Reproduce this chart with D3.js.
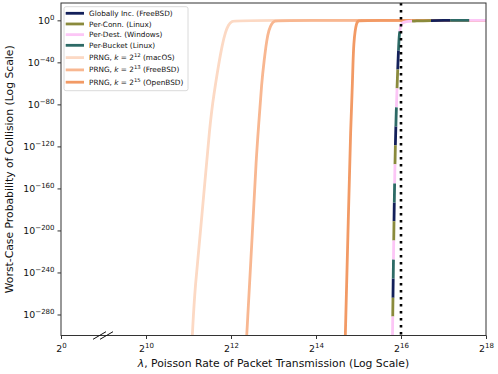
<!DOCTYPE html>
<html>
<head>
<meta charset="utf-8">
<script src="https://cdn.jsdelivr.net/npm/d3@7"></script>
<style>
  body { margin: 0; background: #fff; }
  svg { display: block; font-family: "DejaVu Sans", sans-serif; }
</style>
</head>
<body>
<svg id="chart"></svg>
<script>
'use strict';

// x: log2 of the Poisson rate, y: log10 of the collision probability
const counterLog2Rate = [15.80, 15.84, 15.88, 15.94, 15.96, 16.00, 16.06, 18.00];
const counterLog10P   = [-300, -171, -92, -28, -12, -3.5, 0, 0];

const macosLog2Rate = [11.09, 11.15, 11.31, 11.51, 11.60, 11.70, 11.80, 11.87, 11.94, 12.02, 12.15, 18.00];
const macosLog10P   = [-300, -254, -190, -95, -70, -44, -22, -11, -4, -0.8, 0, 0];

const freebsdLog2Rate = [12.37, 12.52, 12.59, 12.66, 12.72, 12.78, 12.84, 12.89, 12.96, 13.02, 13.12, 18.00];
const freebsdLog10P   = [-300, -190, -133, -95, -60, -38, -19, -9, -3, -0.5, 0, 0];

const openbsdLog2Rate = [14.69, 14.76, 14.82, 14.85, 14.87, 14.89, 14.92, 14.95, 14.98, 15.04, 18.00];
const openbsdLog10P   = [-300, -190, -95, -70, -40, -21, -10, -3.5, -0.6, 0, 0];

const counterNames  = ['Globally Inc. (FreeBSD)', 'Per-Conn. (Linux)', 'Per-Dest. (Windows)', 'Per-Bucket (Linux)'];
const counterColors = ['#13205a', '#8a8a3c', '#fcc6f6', '#2d6a66'];
const prngK      = [12, 13, 15];
const prngOS     = ['macOS', 'FreeBSD', 'OpenBSD'];
const prngColors = ['#fcd9c4', '#f8b791', '#f29a65'];

const xTickExps = [0, 10, 12, 14, 16, 18];
const yTickExps = [0, -40, -80, -120, -160, -200, -240, -280];
const thresholdExp = 16;

const chart = {
    width: 498,
    height: 374,
    left: 61,
    right: 486,
    top: 3,
    bottom: 335.5,
    dash: 19,

    init: function() {
        this.svg = d3.select('#chart')
            .attr('width', this.width)
            .attr('height', this.height);

        // broken axis: 2^0 sits where 2^8 would be
        this.x = d3.scaleLog().base(2)
            .domain([1, 2 ** 10, 2 ** 18])
            .range([this.left, 146, this.right]);
        this.y = d3.scaleLog()
            .domain([1e-300, 10 ** 16.5])
            .range([this.bottom, this.top]);
    },

    toPoints: function(xs, ys) {
        return xs.map((e, i) => [2 ** e, 10 ** ys[i]]);
    },

    draw: function() {
        const _this = this;
        const svg = this.svg;
        const line = d3.line()
            .x(d => _this.x(d[0]))
            .y(d => _this.y(d[1]))
            .curve(d3.curveBasis);

        svg.append('clipPath').attr('id', 'plot-clip')
            .append('rect')
            .attr('x', this.left).attr('y', this.top)
            .attr('width', this.right - this.left)
            .attr('height', this.bottom - this.top);

        const plot = svg.append('g').attr('clip-path', 'url(#plot-clip)');

        // PRNG curves
        const prng = [
            this.toPoints(macosLog2Rate, macosLog10P),
            this.toPoints(freebsdLog2Rate, freebsdLog10P),
            this.toPoints(openbsdLog2Rate, openbsdLog10P)
        ];
        prng.forEach((pts, i) => {
            plot.append('path')
                .attr('d', line(pts))
                .attr('fill', 'none')
                .attr('stroke', prngColors[i])
                .attr('stroke-width', 2.8);
        });

        // the four counter schemes coincide; interleaved dashes show all of them
        const counterPts = this.toPoints(counterLog2Rate, counterLog10P);
        const phase = [2, 1, 0, 3];  // pink, olive, navy, teal along the path
        counterColors.forEach((c, i) => {
            plot.append('path')
                .attr('d', line(counterPts))
                .attr('fill', 'none')
                .attr('stroke', c)
                .attr('stroke-width', 2.8)
                .attr('stroke-dasharray', this.dash + ' ' + this.dash * 3)
                .attr('stroke-dashoffset', -phase[i] * this.dash);
        });

        // vertical dotted line at 2^16
        plot.append('line')
            .attr('x1', this.x(2 ** thresholdExp)).attr('x2', this.x(2 ** thresholdExp))
            .attr('y1', this.top).attr('y2', this.bottom)
            .attr('stroke', '#000')
            .attr('stroke-width', 2.6)
            .attr('stroke-dasharray', '2.6 4.4');

        // frame
        svg.append('rect')
            .attr('x', this.left).attr('y', this.top)
            .attr('width', this.right - this.left)
            .attr('height', this.bottom - this.top)
            .attr('fill', 'none')
            .attr('stroke', '#333')
            .attr('stroke-width', 1);

        this.drawAxes();
        this.drawLegend();
    },

    supLabel: function(sel, base, exp, sup) {
        sel.text(null);
        sel.append('tspan').text(base);
        sel.append('tspan')
            .attr('dy', -4.2)
            .attr('font-size', sup)
            .text(exp);
    },

    drawAxes: function() {
        const _this = this;
        const xAxis = d3.axisBottom(this.x)
            .tickValues(xTickExps.map(e => 2 ** e))
            .tickSize(3.5)
            .tickPadding(2);
        const gx = this.svg.append('g')
            .attr('transform', 'translate(0,' + this.bottom + ')')
            .call(xAxis);
        gx.select('.domain').remove();
        gx.selectAll('.tick line').attr('stroke', '#333');
        gx.selectAll('.tick text')
            .attr('font-size', 9.4)
            .attr('font-family', 'DejaVu Sans')
            .attr('fill', '#111')
            .attr('dy', '1.15em')
            .each(function(d) {
                _this.supLabel(d3.select(this), '2', String(Math.round(Math.log2(d))), 7);
            });

        const yAxis = d3.axisLeft(this.y)
            .tickValues(yTickExps.map(e => 10 ** e))
            .tickSize(3.5)
            .tickPadding(3);
        const gy = this.svg.append('g')
            .attr('transform', 'translate(' + this.left + ',0)')
            .call(yAxis);
        gy.select('.domain').remove();
        gy.selectAll('.tick line').attr('stroke', '#333');
        gy.selectAll('.tick text')
            .attr('font-size', 9.4)
            .attr('font-family', 'DejaVu Sans')
            .attr('fill', '#111')
            .attr('dy', '0.35em')
            .each(function(d) {
                const e = Math.round(Math.log10(d));
                _this.supLabel(d3.select(this), '10', (e < 0 ? '\u2212' : '') + Math.abs(e), 7);
            });

        // axis break marks
        const bx = this.x(2 ** 5);
        [-4, 3].forEach(off => {
            this.svg.append('line')
                .attr('x1', bx + off - 6.5).attr('y1', this.bottom + 3.8)
                .attr('x2', bx + off + 6.5).attr('y2', this.bottom - 3.8)
                .attr('stroke', '#111')
                .attr('stroke-width', 1);
        });

        // axis titles
        const xt = this.svg.append('text')
            .attr('x', (this.left + this.right) / 2)
            .attr('y', 367)
            .attr('text-anchor', 'middle')
            .attr('font-size', 10.8)
            .attr('fill', '#111');
        xt.append('tspan').attr('font-style', 'italic').text('\u03bb');
        xt.append('tspan').text(', Poisson Rate of Packet Transmission (Log Scale)');

        this.svg.append('text')
            .attr('transform', 'translate(13,' + ((this.top + this.bottom) / 2) + ') rotate(-90)')
            .attr('text-anchor', 'middle')
            .attr('font-size', 10.8)
            .attr('fill', '#111')
            .text('Worst-Case Probability of Collision (Log Scale)');
    },

    drawLegend: function() {
        const lg = this.svg.append('g');
        lg.append('rect')
            .attr('x', 64).attr('y', 6.7)
            .attr('width', 124).attr('height', 84)
            .attr('rx', 2)
            .attr('fill', '#fff').attr('fill-opacity', 0.8)
            .attr('stroke', '#d0d0d0')
            .attr('stroke-width', 0.8);

        const rows = counterNames.map((n, i) => ({color: counterColors[i], name: n}))
            .concat(prngK.map((k, i) => ({color: prngColors[i], k: k, os: prngOS[i]})));
        rows.forEach((r, i) => {
            const y = i < 4 ? 13.3 + i * 10.67 : 45.3 + (i - 3) * 12.3;
            lg.append('line')
                .attr('x1', 65.7).attr('x2', 84)
                .attr('y1', y).attr('y2', y)
                .attr('stroke', r.color)
                .attr('stroke-width', 2.8);
            const t = lg.append('text')
                .attr('x', 89).attr('y', y)
                .attr('dy', '0.35em')
                .attr('font-size', 7.3)
                .attr('fill', '#111');
            if (r.name) {
                t.text(r.name);
            } else {
                t.append('tspan').text('PRNG, ');
                t.append('tspan').attr('font-style', 'italic').text('k');
                t.append('tspan').text(' = 2');
                t.append('tspan').attr('dy', -3).attr('font-size', 5.3).text(r.k);
                t.append('tspan').attr('dy', 3).text(' (' + r.os + ')');
            }
        });
    }
};

chart.init();
chart.draw();
</script>
</body>
</html>
